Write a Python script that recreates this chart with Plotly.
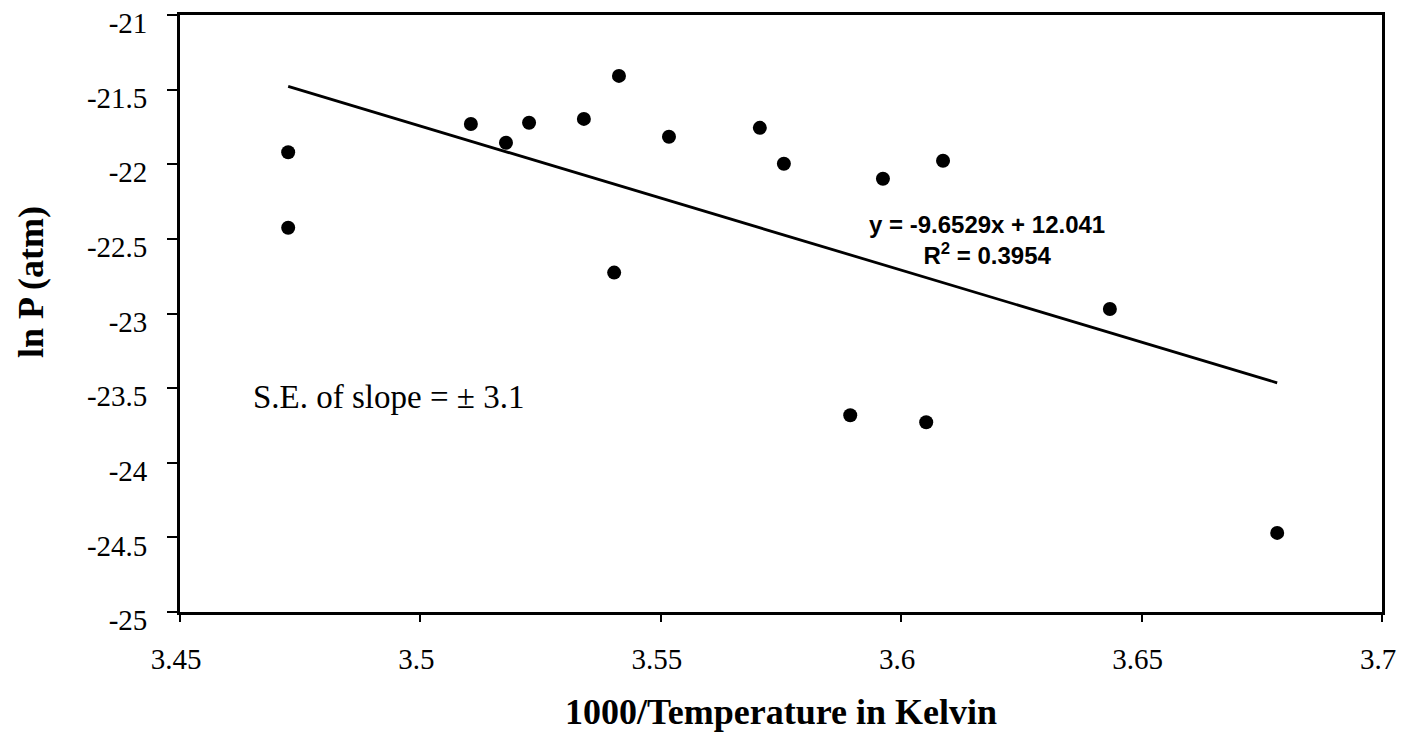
import plotly.graph_objects as go

# Vapour pressure data: reciprocal temperature (1000/K) vs ln P (atm)
inv_temp = [3.4725, 3.4725, 3.5105, 3.5178, 3.5226, 3.5340, 3.5413, 3.5403,
            3.5517, 3.5706, 3.5756, 3.5894, 3.5962, 3.6052, 3.6087, 3.6434, 3.6782]
ln_p = [-21.92, -22.425, -21.73, -21.856, -21.722, -21.696, -21.408, -22.726,
        -21.816, -21.756, -21.997, -23.682, -22.097, -23.729, -21.977, -22.97, -24.47]

# Linear trend line reported on the chart
slope = -9.6529
intercept = 12.041
r_squared = 0.3954
slope_se = 3.1

x_ticks = [3.45, 3.5, 3.55, 3.6, 3.65, 3.7]
x_tick_text = ["3.45", "3.5", "3.55", "3.6", "3.65", "3.7"]
y_ticks = [-21, -21.5, -22, -22.5, -23, -23.5, -24, -24.5, -25]
y_tick_text = ["-21", "-21.5", "-22", "-22.5", "-23", "-23.5", "-24", "-24.5", "-25"]

x_fit = [min(inv_temp), max(inv_temp)]
y_fit = [slope * v + intercept for v in x_fit]

serif = "Liberation Serif"
sans = "Liberation Sans"

W, H = 1403, 744
plot_l, plot_r, plot_t, plot_b = 180, 1382, 15, 612


def paper_x(px):
    return (px - plot_l) / (plot_r - plot_l)


def paper_y(py):
    return (plot_b - py) / (plot_b - plot_t)


fig = go.Figure()
fig.add_trace(go.Scatter(
    x=x_fit, y=y_fit, mode="lines",
    line=dict(color="black", width=2.8),
    hoverinfo="skip", showlegend=False,
))
fig.add_trace(go.Scatter(
    x=inv_temp, y=ln_p, mode="markers",
    marker=dict(color="black", size=14, symbol="circle"),
    showlegend=False,
))

# Regression equation and R-squared
fig.add_annotation(
    x=3.6178, y=-22.51, xref="x", yref="y", xanchor="center", yanchor="middle",
    text=f"<b>y = {slope}x + {intercept}</b><br><b>R<sup>2</sup> = {r_squared}</b>",
    showarrow=False, align="center",
    font=dict(family=sans, size=24, color="black"),
)
# Standard error of the slope
fig.add_annotation(
    x=3.4647, y=-23.56, xref="x", yref="y", xanchor="left", yanchor="middle",
    text=f"S.E. of slope = ± {slope_se}",
    showarrow=False,
    font=dict(family=serif, size=33, color="black"),
)

# Axis titles
fig.add_annotation(
    x=paper_x(781), y=paper_y(712), xref="paper", yref="paper",
    xanchor="center", yanchor="middle",
    text="<b>1000/Temperature in Kelvin</b>", showarrow=False,
    font=dict(family=serif, size=36, color="black"),
)
fig.add_annotation(
    x=paper_x(31), y=paper_y(282), xref="paper", yref="paper",
    xanchor="center", yanchor="middle",
    text="<b>ln P (atm)</b>", showarrow=False, textangle=-90,
    font=dict(family=serif, size=36, color="black"),
)

fig.update_layout(
    width=W, height=H,
    margin=dict(l=plot_l, r=W - plot_r, t=plot_t, b=H - plot_b, autoexpand=False),
    paper_bgcolor="white", plot_bgcolor="white",
    xaxis=dict(
        range=[3.45, 3.7], tickmode="array", tickvals=x_ticks, ticktext=x_tick_text,
        showgrid=False, zeroline=False, automargin=False,
        showline=True, linecolor="black", linewidth=2.8, mirror=True,
        ticks="outside", ticklen=7, tickwidth=2, tickcolor="black",
        ticklabelstandoff=12, ticklabelshift=-4,
        tickfont=dict(family=serif, size=29, color="black"),
    ),
    yaxis=dict(
        range=[-25, -21], tickmode="array", tickvals=y_ticks, ticktext=y_tick_text,
        showgrid=False, zeroline=False, automargin=False,
        showline=True, linecolor="black", linewidth=2.8, mirror=True,
        ticks="outside", ticklen=10, tickwidth=2, tickcolor="black",
        ticklabelstandoff=14, ticklabelshift=8,
        tickfont=dict(family=serif, size=29, color="black"),
    ),
)

fig.write_html("out.html")
